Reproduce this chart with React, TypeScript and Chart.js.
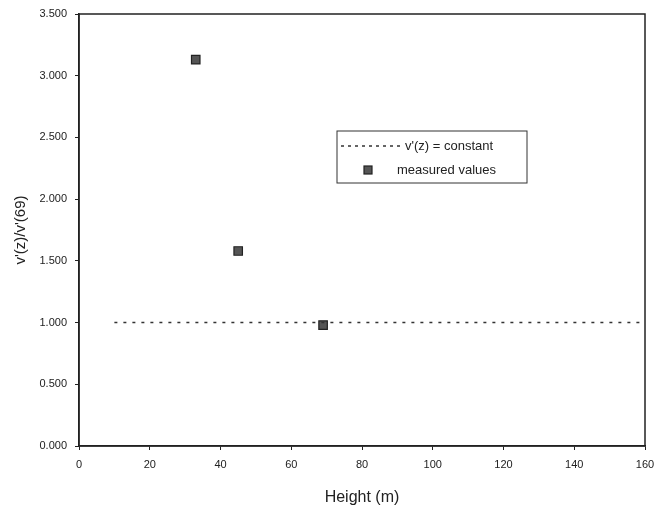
import React, { useEffect, useRef } from "react";
import { Chart, registerables } from "chart.js";

Chart.register(...registerables);

const heights = [33, 45, 69];
const ratios = [3.13, 1.58, 0.98];
const constantX = [10, 160];
const constantY = [1.0, 1.0];
const seriesLabels = ["v'(z) = constant", "measured values"];
const yTicks = [0, 0.5, 1, 1.5, 2, 2.5, 3, 3.5];
const xTicks = [0, 20, 40, 60, 80, 100, 120, 140, 160];

const FONT = "'Liberation Sans', Arial, sans-serif";

const boxLegendPlugin = {
  id: "boxLegend",
  afterDraw(chart: any) {
    const { ctx, chartArea } = chart;
    ctx.save();
    ctx.strokeStyle = "#222";
    ctx.lineWidth = 1.5;
    ctx.strokeRect(chartArea.left, chartArea.top, chartArea.right - chartArea.left, chartArea.bottom - chartArea.top);
    const bx = 337, by = 131, bw = 190, bh = 52;
    ctx.lineWidth = 1;
    ctx.strokeStyle = "#333";
    ctx.strokeRect(bx, by, bw, bh);
    ctx.font = `13px ${FONT}`;
    ctx.fillStyle = "#222";
    ctx.textBaseline = "middle";
    ctx.setLineDash([3, 4]);
    ctx.lineWidth = 1.5;
    ctx.beginPath();
    ctx.moveTo(341, 146);
    ctx.lineTo(404, 146);
    ctx.stroke();
    ctx.setLineDash([]);
    ctx.fillText(chart.data.datasets[0].label, 405, 146);
    ctx.fillStyle = "#555";
    ctx.fillRect(364, 166, 8, 8);
    ctx.strokeStyle = "#222";
    ctx.lineWidth = 1.2;
    ctx.strokeRect(364, 166, 8, 8);
    ctx.fillStyle = "#222";
    ctx.fillText(chart.data.datasets[1].label, 397, 170);
    ctx.restore();
  },
};

export default function App() {
  const ref = useRef<HTMLCanvasElement>(null);
  useEffect(() => {
    document.body.style.margin = "0";
    const chart = new Chart(ref.current as HTMLCanvasElement, {
      type: "scatter",
      data: {
        datasets: [
          {
            label: seriesLabels[0],
            data: constantX.map((x, i) => ({ x, y: constantY[i] })),
            showLine: true,
            borderColor: "#333",
            borderWidth: 1.5,
            borderDash: [3, 6],
            pointRadius: 0,
          },
          {
            label: seriesLabels[1],
            data: heights.map((x, i) => ({ x, y: ratios[i] })),
            pointStyle: "rect",
            pointRadius: 6,
            backgroundColor: "#555",
            borderColor: "#222",
            borderWidth: 1.2,
          },
        ],
      },
      options: {
        animation: false,
        responsive: false,
        layout: { padding: { left: 0, top: 14, right: 10, bottom: 0 } },
        plugins: { legend: { display: false }, tooltip: { enabled: false } },
        scales: {
          x: {
            type: "linear",
            min: 0,
            max: 160,
            afterBuildTicks: (s: any) => {
              s.ticks = xTicks.map((v) => ({ value: v }));
            },
            afterFit: (s: any) => {
              s.height = 67;
              s.paddingLeft = 0;
              s.paddingRight = 0;
            },
            grid: { display: true, drawOnChartArea: false, tickLength: 4, color: "#222" },
            border: { display: true, color: "#222", width: 1.5 },
            ticks: { color: "#222", font: { family: FONT, size: 11 }, padding: 8, maxRotation: 0 },
            title: {
              display: true,
              text: "Height (m)",
              color: "#222",
              font: { family: FONT, size: 16 },
              padding: { top: 4, bottom: 6 },
            },
          },
          y: {
            type: "linear",
            min: 0,
            max: 3.5,
            afterBuildTicks: (s: any) => {
              s.ticks = yTicks.map((v) => ({ value: v }));
            },
            afterFit: (s: any) => {
              s.width = 79;
              s.paddingTop = 0;
              s.paddingBottom = 0;
            },
            grid: { display: true, drawOnChartArea: false, tickLength: 4, color: "#222" },
            border: { display: true, color: "#222", width: 1.5 },
            ticks: {
              color: "#222",
              font: { family: FONT, size: 11 },
              padding: 8,
              callback: (v: any) => Number(v).toFixed(3),
            },
            title: {
              display: true,
              text: "v'(z)/v'(69)",
              color: "#222",
              font: { family: FONT, size: 15 },
              padding: { top: 12, bottom: 6 },
            },
          },
        },
      },
      plugins: [boxLegendPlugin],
    });
    return () => chart.destroy();
  }, []);
  return (
    <div style={{ width: 655, height: 513, background: "#fff" }}>
      <canvas ref={ref} width={655} height={513} />
    </div>
  );
}
